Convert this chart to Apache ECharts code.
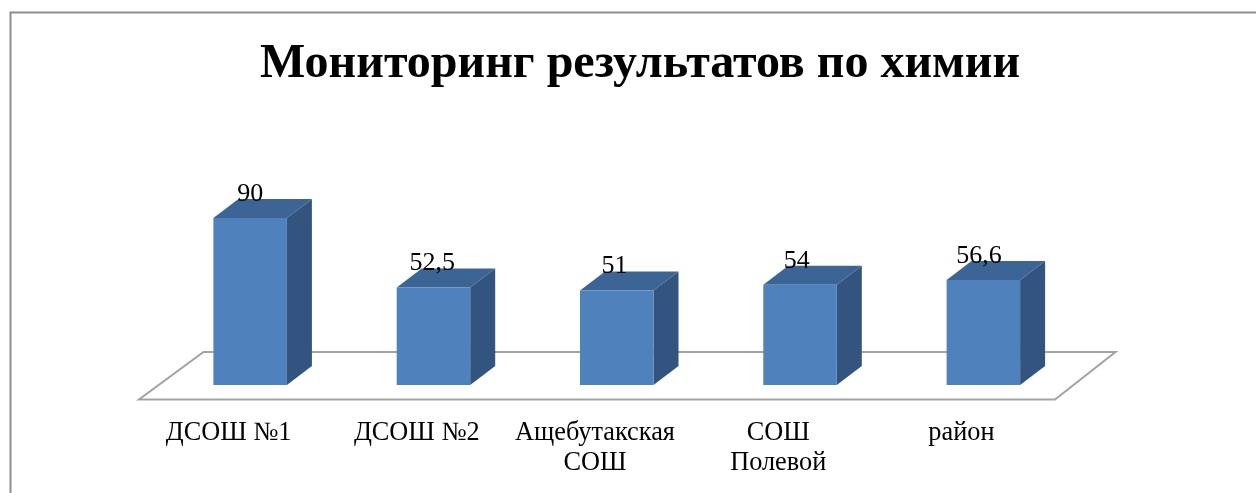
<!DOCTYPE html>
<html>
<head>
<meta charset="utf-8">
<style>html,body{margin:0;padding:0;background:#fff}#c{width:1256px;height:493px}</style>
<script src="https://cdn.jsdelivr.net/npm/echarts@6/dist/echarts.min.js"></script>
</head>
<body>
<div id="c"></div>
<script>
const titleText = 'Мониторинг результатов по химии';
const categories = ['ДСОШ №1', 'ДСОШ №2', 'Ащебутакская\nСОШ', 'СОШ\nПолевой', 'район'];
const values = [90, 52.5, 51, 54, 56.6];
const valueLabels = ['90', '52,5', '51', '54', '56,6'];

const FONT = '"Liberation Serif","Times New Roman",serif';
const DEPTH_X = 25, DEPTH_Y = 19, BAR_W = 73.5;
const FRONT = '#4f81bd', TOP = '#3c6495', SIDE = '#32547f';

const chart = echarts.init(document.getElementById('c'), null, {renderer: 'canvas'});

function renderBar(params, api) {
  const i = api.value(0);
  const top = api.coord([i, api.value(1)]);
  const base = api.coord([i, 0]);
  const l = top[0] - BAR_W / 2, r = top[0] + BAR_W / 2, t = top[1], b = base[1];
  return {
    type: 'group',
    children: [
      {type: 'polygon', shape: {points: [[r, t], [r + DEPTH_X, t - DEPTH_Y], [r + DEPTH_X, b - DEPTH_Y], [r, b]]}, style: {fill: SIDE}},
      {type: 'polygon', shape: {points: [[l, t], [l + DEPTH_X, t - DEPTH_Y], [r + DEPTH_X, t - DEPTH_Y], [r, t]]}, style: {fill: TOP}},
      {type: 'rect', shape: {x: l, y: t, width: BAR_W, height: b - t}, style: {fill: FRONT}},
      {type: 'text', z2: 5, style: {x: top[0] - i * 1.1, y: t - 11, text: valueLabels[i], fill: '#000', font: '26px ' + FONT, textAlign: 'center', textVerticalAlign: 'bottom'}}
    ]
  };
}

function renderFloor(params) {
  const s = params.coordSys, bottom = s.y + s.height;
  return {
    type: 'polygon',
    shape: {points: [
      [s.x - 19.5, bottom + 14.5],
      [s.x + s.width - 20, bottom + 14.5],
      [s.x + s.width + 40.5, bottom - 33],
      [s.x + 45, bottom - 33]
    ]},
    style: {fill: '#fff', stroke: '#a3a3a3', lineWidth: 2}
  };
}

chart.setOption({
  animation: false,
  backgroundColor: '#fff',
  title: {
    text: titleText, left: 635, top: 36, textAlign: 'center',
    textStyle: {fontFamily: FONT, fontSize: 48, fontWeight: 'bold', color: '#000'}
  },
  graphic: [{
    type: 'polyline', silent: true,
    shape: {points: [[10.5, 493], [10.5, 12.5], [1256, 12.5]]},
    style: {fill: null, stroke: '#8e8e8e', lineWidth: 2}
  }],
  grid: [
    {left: 158.5, width: 916.5, top: 199.5, height: 185.5},
    {left: 137, width: 916, top: 199.5, height: 200}
  ],
  xAxis: [
    {type: 'category', gridIndex: 0, data: categories, show: false},
    {type: 'category', gridIndex: 1, data: categories,
      axisLine: {show: false}, axisTick: {show: false},
      axisLabel: {
        interval: 0, margin: 19, color: '#000', fontFamily: FONT, fontSize: 26.3, lineHeight: 30,
        formatter: (v) => v === categories[1] ? '{shift|' + v + '}' : v,
        rich: {shift: {fontFamily: FONT, fontSize: 26.3, lineHeight: 30, color: '#000', padding: [0, 0, 0, 10]}}
      }}
  ],
  yAxis: [
    {type: 'value', gridIndex: 0, min: 0, max: 100, show: false},
    {type: 'value', gridIndex: 1, min: 0, max: 100, show: false}
  ],
  series: [
    {type: 'custom', name: 'floor', xAxisIndex: 0, yAxisIndex: 0, z: 1, silent: true, data: [[0, 0]], renderItem: renderFloor},
    {type: 'custom', name: 'Мониторинг', xAxisIndex: 0, yAxisIndex: 0, z: 2,
      encode: {x: 0, y: 1},
      data: values.map((v, i) => [i, v]), renderItem: renderBar}
  ]
});
</script>
</body>
</html>
